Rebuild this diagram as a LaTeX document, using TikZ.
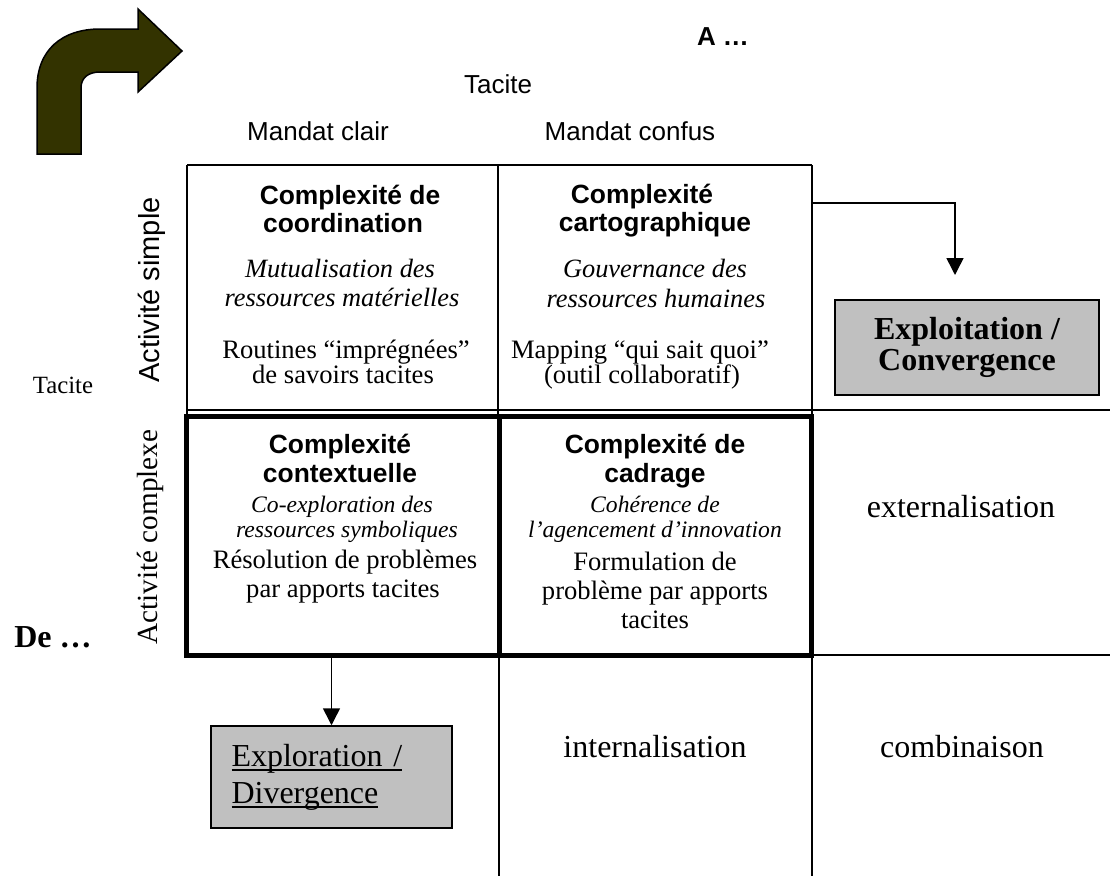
\documentclass[tikz,border=0pt]{standalone}
\usepackage{fontspec}
\setmainfont{Liberation Serif}
\setsansfont{Liberation Sans}
\usetikzlibrary{arrows.meta}
\definecolor{arrowolive}{HTML}{333300}
\definecolor{boxgray}{HTML}{C0C0C0}
\newcommand{\ulinetext}[1]{\mbox{\setbox0\hbox{#1}\rlap{\rule[-2.3pt]{\wd0}{0.7pt}}\box0}}
\begin{document}
\begin{tikzpicture}[x=0.5pt,y=-0.5pt,
  hd/.style={font=\fontsize{13.2}{15}\sffamily\bfseries, anchor=base, inner sep=0},
  itA/.style={font=\fontsize{13.2}{15}\rmfamily\itshape, anchor=base, inner sep=0},
  itB/.style={font=\fontsize{11.8}{14}\rmfamily\itshape, anchor=base, inner sep=0},
  rg/.style={font=\fontsize{13.3}{15}\rmfamily, anchor=base, inner sep=0},
  lab/.style={font=\fontsize{13}{15}\sffamily, anchor=base, inner sep=0},
  big/.style={font=\fontsize{16}{18}\rmfamily, anchor=base, inner sep=0},
  gridline/.style={line width=1pt},
  heavybox/.style={draw, line width=2.5pt, inner sep=0},
  gbox/.style={draw, line width=0.75pt, fill=boxgray},
  arr/.style={line width=0.75pt, -{Triangle[width=8.5pt,length=8.5pt]}}
]
\fill[white] (0,0) rectangle (1110,890);
\path[use as bounding box] (0,0) rectangle (1110,890);

% curved arrow
\filldraw[fill=arrowolive, draw=black, line width=0.75pt, line join=miter]
  (37,154) -- (37,88) .. controls (37,50) and (62,29) .. (100,29) -- (138,29)
  -- (138,9) -- (182,51) -- (138,92) -- (138,72) -- (100,72)
  .. controls (88,72) and (81,78) .. (81,88) -- (81,154) -- cycle;

% header labels
\node[lab, font=\fontsize{13}{15}\sffamily\bfseries] (A) at (723,45) {A …};
\node[lab] (tacT) at (498,93) {Tacite};
\node[lab] (mcl) at (318,140) {Mandat clair};
\node[lab] (mcf) at (630,140) {Mandat confus};
\node[font=\fontsize{14.5}{16}\sffamily, rotate=90, inner sep=0] (as) at (152,290) {Activité simple};
\node[font=\fontsize{14.6}{16}\rmfamily, rotate=90, inner sep=0] (ac) at (150,537) {Activité complexe};
\node[font=\fontsize{12.4}{14}\rmfamily, anchor=base, inner sep=0] (tacL) at (63,393) {Tacite};
\node[font=\fontsize{16}{18}\rmfamily\bfseries, anchor=base, inner sep=0] (de) at (53,647) {De …};

% grid lines
\draw[gridline] (187,165) -- (812,165);
\draw[gridline] (187,165) -- (187,416);
\draw[gridline] (498,165) -- (498,416);
\draw[gridline] (812,165) -- (812,876);
\draw[gridline] (499,655) -- (499,876);
\draw[gridline] (187,410) -- (1110,410);
\draw[gridline] (812,655) -- (1110,655);

% heavy boxes
\node[heavybox, minimum width=156.5pt, minimum height=119.5pt] (ctx) at (343,535.5) {};
\node[heavybox, minimum width=155.75pt, minimum height=119.5pt] (cad) at (655.25,535.5) {};

% cell 1
\node[hd] (c1a) at (350,204) {Complexité de};
\node[hd] (c1b) at (343,232) {coordination};
\node[itA] (c1c) at (340,277) {Mutualisation des};
\node[itA] (c1d) at (342,306) {ressources matérielles};
\node[rg] (c1e) at (346,358) {Routines “imprégnées”};
\node[rg] (c1f) at (343,383) {de savoirs tacites};

% cell 2
\node[hd] (c2a) at (642,203) {Complexité};
\node[hd] (c2b) at (655,231) {cartographique};
\node[itA] (c2c) at (655,277) {Gouvernance des};
\node[itA] (c2d) at (656,307) {ressources humaines};
\node[rg] (c2e) at (640,358) {Mapping “qui sait quoi”};
\node[rg] (c2f) at (642,383) {(outil collaboratif)};

% cell 3
\node[hd] (c3a) at (340,453) {Complexité};
\node[hd] (c3b) at (340,482) {contextuelle};
\node[itB] (c3c) at (342,512) {Co-exploration des};
\node[itB] (c3d) at (347,537) {ressources symboliques};
\node[rg] (c3e) at (345,568) {Résolution de problèmes};
\node[rg] (c3f) at (343,597) {par apports tacites};

% cell 4
\node[hd] (c4a) at (655,453) {Complexité de};
\node[hd] (c4b) at (655,482) {cadrage};
\node[itB] (c4c) at (655,512) {Cohérence de};
\node[itB] (c4d) at (655,537) {l’agencement d’innovation};
\node[rg] (c4e) at (655,570) {Formulation de};
\node[rg] (c4f) at (655,599) {problème par apports};
\node[rg] (c4g) at (655,628) {tacites};

% other cells
\node[big] (ext) at (961,517) {externalisation};
\node[big] (int) at (655,757) {internalisation};
\node[big] (comb) at (962,757) {combinaison};

% gray boxes
\node[gbox, minimum width=132pt, minimum height=47.5pt, font=\fontsize{16}{15.5}\rmfamily\bfseries, align=center] (expl) at (967,347.5) {Exploitation /\\Convergence};
\node[gbox, minimum width=120.5pt, minimum height=51pt, text width=100pt, inner xsep=10.25pt, font=\fontsize{16}{18.5}\rmfamily, align=left] (explo) at (331.5,777) {\ulinetext{Exploration /}\\\ulinetext{Divergence}};

% connectors
\coordinate (r1) at (812,203);
\coordinate (r2) at (955,275);
\draw[arr] (r1) -| (r2);
\draw[arr] (ctx.south -| explo.north) -- (explo.north);
\end{tikzpicture}
\end{document}
